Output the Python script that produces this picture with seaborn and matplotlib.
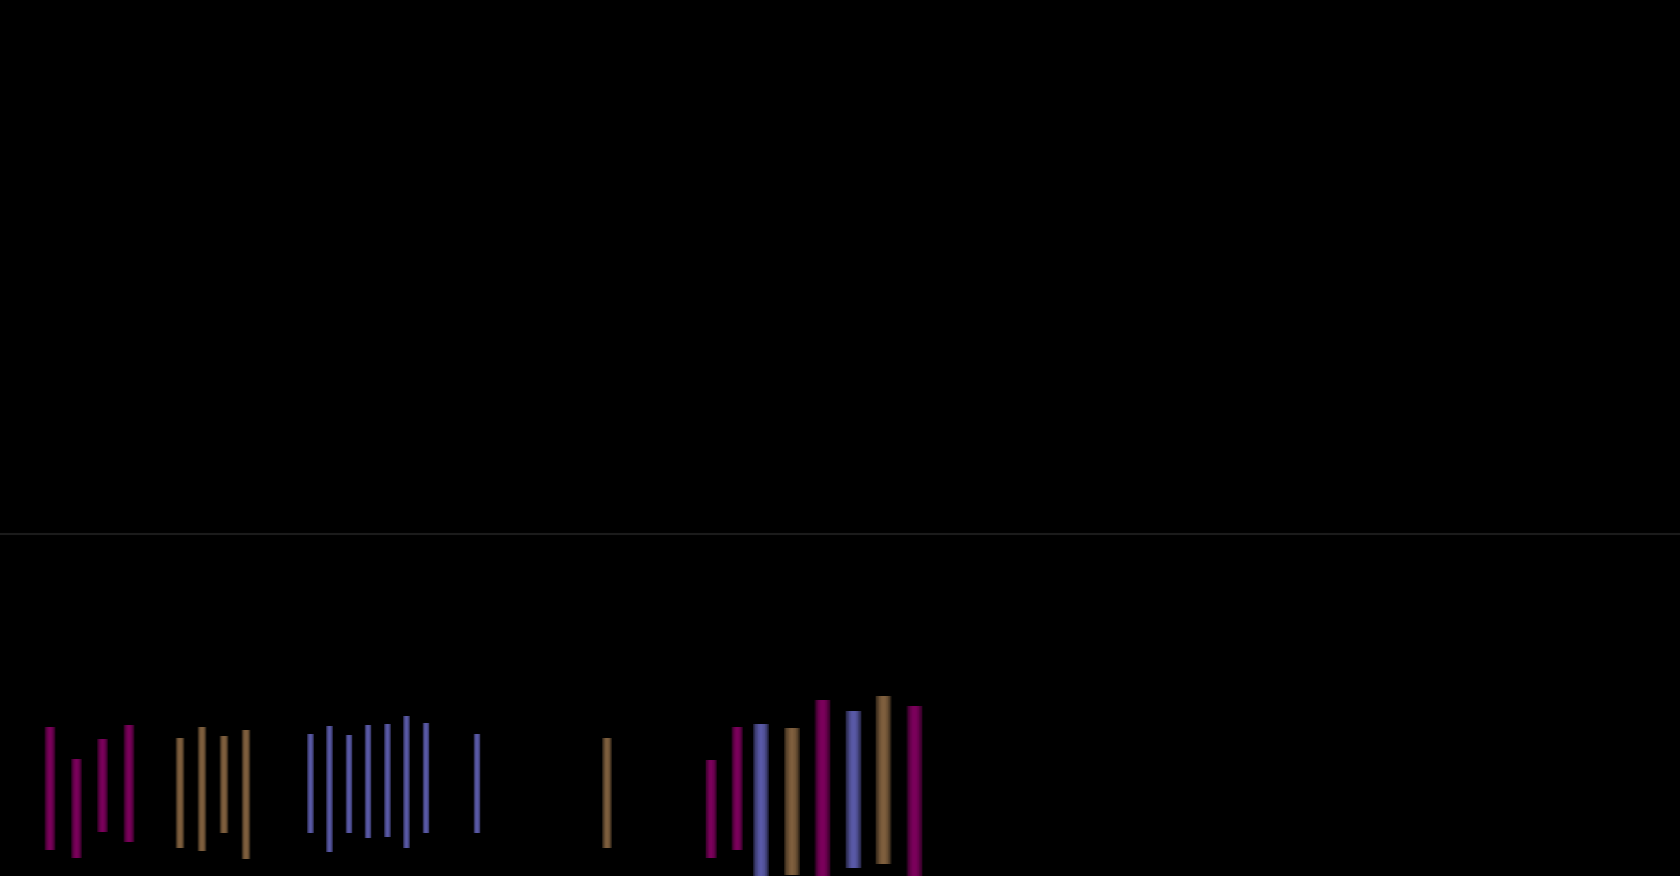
import numpy as np
import pandas as pd
import matplotlib
matplotlib.use("Agg")
import matplotlib.pyplot as plt
import seaborn as sns

sns.set_theme(style="dark", rc={
    "figure.facecolor": "black",
    "axes.facecolor": "black",
    "savefig.facecolor": "black",
})

# data (baseline line = 0)
series = (["s1"] * 4 + ["s2"] * 4 + ["s3"] * 8 + ["s2"]
          + ["s1", "s1", "s3", "s2", "s1", "s3", "s2", "s1"])
x_pos = [5.0, 7.65, 10.25, 12.9,
         18.0, 20.2, 22.4, 24.6,
         31.05, 32.95, 34.9, 36.8, 38.75, 40.65, 42.6, 47.7,
         60.7,
         71.1, 73.7, 76.1, 79.2, 82.25, 85.35, 88.35, 91.45]
low = [-92.1, -94.5, -86.9, -89.8,
       -91.5, -92.4, -87.2, -94.8,
       -87.2, -92.7, -87.2, -88.6, -88.3, -91.5, -87.2, -87.2,
       -91.5,
       -94.5, -92.1, -104.0, -99.4, -104.0, -97.4, -96.2, -104.0]
high = [-56.3, -65.6, -59.8, -55.7,
        -59.5, -56.3, -58.9, -57.1,
        -58.3, -56.0, -58.6, -55.7, -55.4, -53.1, -55.1, -58.3,
        -59.5,
        -65.9, -56.3, -55.4, -56.6, -48.4, -51.6, -47.2, -50.1]

df = pd.DataFrame({"series": series, "x": x_pos, "low": low, "high": high})

# styling
colors = {"s1": "#7c005c", "s2": "#80603e", "s3": "#5a5aa8"}
bar_w = [1.13] * 4 + [0.93] * 4 + [0.75] * 8 + [1.0] + [1.2] * 2 + [1.68] * 6
n_layers = 12

fig = plt.figure(figsize=(16.8, 8.76), dpi=100)
ax = fig.add_axes([0, 0, 1, 1])

ax.axhline(0, color="#1b1b1b", lw=1.5)

# cylinder-like shading: stacked bars, narrower = brighter
for s, base in colors.items():
    sub = df[df["series"] == s]
    widths = np.array([bar_w[i] for i in sub.index])
    shades = sns.blend_palette(["#000000", base], 100)
    for k in range(n_layers):
        r = 1 - k / n_layers
        b = 0.15 + 0.85 * (1 - r ** 2) ** 0.8
        ax.bar(sub["x"], sub["high"] - sub["low"], bottom=sub["low"],
               width=widths * r, color=shades[int(b * 99)], linewidth=0)

ax.set_xlim(0, 168)
ax.set_ylim(-99.7, 155.7)
ax.set_axis_off()

fig.savefig("out.png", dpi=100, facecolor="black")
